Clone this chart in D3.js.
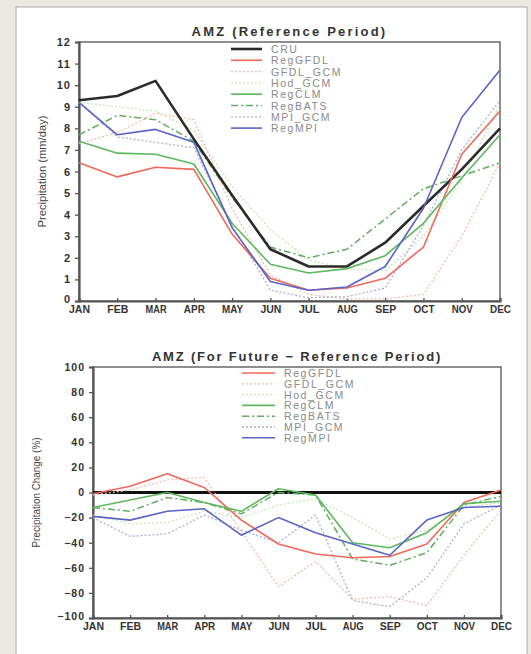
<!DOCTYPE html>
<html><head><meta charset="utf-8">
<script src="https://cdn.jsdelivr.net/npm/d3@7"></script>
<style>
html,body{margin:0;padding:0;background:#e9e8e1;}
svg{display:block;}
</style></head>
<body>
<svg id="c" width="531" height="654"></svg>
<script>
const months = ["JAN","FEB","MAR","APR","MAY","JUN","JUL","AUG","SEP","OCT","NOV","DEC"];
const refSeries = ["CRU","RegGFDL","GFDL_GCM","Hod_GCM","RegCLM","RegBATS","MPI_GCM","RegMPI"];
const futSeries = ["RegGFDL","GFDL_GCM","Hod_GCM","RegCLM","RegBATS","MPI_GCM","RegMPI"];
const refTicks = [0,1,2,3,4,5,6,7,8,9,10,11,12];
const futTicks = [-100,-80,-60,-40,-20,0,20,40,60,80,100];

// Reference period precipitation (mm/day)
const refCRU      = [9.3,9.5,10.2,7.5,4.9,2.4,1.6,1.6,2.7,4.4,6.1,8.0];
const refRegGFDL  = [6.4,5.75,6.2,6.1,3.1,1.05,0.5,0.6,1.05,2.5,6.8,8.8];
const refGFDL_GCM = [7.3,7.8,8.7,8.4,4.3,1.2,0.3,0.1,0.1,0.3,3.0,6.4];
const refHod_GCM  = [9.2,9.0,8.8,7.9,5.3,3.3,1.9,1.5,1.4,3.0,5.6,9.1];
const refRegCLM   = [7.4,6.85,6.8,6.35,3.6,1.7,1.3,1.5,2.1,3.6,5.7,7.7];
const refRegBATS  = [7.7,8.6,8.4,7.4,4.8,2.5,2.0,2.4,3.8,5.2,5.8,6.4];
const refMPI_GCM  = [9.2,7.6,7.35,7.1,3.5,0.5,0.15,0.2,0.6,3.5,7.0,9.3];
const refRegMPI   = [9.2,7.7,7.95,7.35,3.4,0.9,0.5,0.65,1.6,4.3,8.5,10.7];

// Future - reference change (%)
const futRegGFDL  = [-1,5,15,4,-22,-41,-49,-52,-51,-41,-8,2];
const futGFDL_GCM = [-2,2,10,12,-31,-75,-55,-85,-83,-90,-50,-14];
const futHod_GCM  = [-18,-25,-24,-15,-20,-10,-5,-20,-37,-30,-12,-8];
const futRegCLM   = [-12,-6,0,-8,-15,3,-2,-40,-44,-32,-9,-7];
const futRegBATS  = [-12,-15,-4,-8,-17,0,-2,-53,-58,-48,-10,-3];
const futMPI_GCM  = [-20,-35,-33,-18,-30,-40,-18,-86,-91,-68,-25,-10];
const futRegMPI   = [-19,-22,-15,-13,-34,-20,-32,-41,-50,-22,-12,-11];

const refData = {CRU:refCRU,RegGFDL:refRegGFDL,GFDL_GCM:refGFDL_GCM,Hod_GCM:refHod_GCM,RegCLM:refRegCLM,RegBATS:refRegBATS,MPI_GCM:refMPI_GCM,RegMPI:refRegMPI};
const futData = {RegGFDL:futRegGFDL,GFDL_GCM:futGFDL_GCM,Hod_GCM:futHod_GCM,RegCLM:futRegCLM,RegBATS:futRegBATS,MPI_GCM:futMPI_GCM,RegMPI:futRegMPI};

const styles = {
  CRU:      {c:"#2b2b2b", w:2.6, d:null},
  RegGFDL:  {c:"#f0685a", w:1.6, d:null},
  GFDL_GCM: {c:"#f6b9b0", w:1.3, d:"2,2"},
  Hod_GCM:  {c:"#c9e4b8", w:1.3, d:"2,2"},
  RegCLM:   {c:"#5cb85c", w:1.6, d:null},
  RegBATS:  {c:"#5fae5f", w:1.5, d:"7,3,2,3"},
  MPI_GCM:  {c:"#aab0dc", w:1.3, d:"2,2"},
  RegMPI:   {c:"#5a64c4", w:1.6, d:null}
};

const svg = d3.select("#c");
svg.append("rect").attr("x",16).attr("y",7).attr("width",511).attr("height",660)
  .attr("fill","#fff").attr("stroke","#a8a8a8").attr("stroke-width",1);

function panel(cfg){
  const x = d3.scalePoint().domain(months).range([cfg.x0,cfg.x1]).padding(0);
  const y = d3.scaleLinear().domain(cfg.domain).range([cfg.y1,cfg.y0]);
  const g = svg.append("g");

  // frame
  g.append("rect").attr("x",cfg.x0).attr("y",cfg.y0).attr("width",cfg.x1-cfg.x0).attr("height",cfg.y1-cfg.y0)
    .attr("fill","none").attr("stroke","#6a6a6a").attr("stroke-width",1.5);

  // y axis
  const ya = d3.axisLeft(y).tickValues(cfg.ticks).tickSize(4).tickPadding(4)
    .tickFormat(d=>String(d).replace("-","\u2212"));
  const yg = g.append("g").attr("transform",`translate(${cfg.x0},0)`).call(ya);
  yg.select(".domain").attr("stroke","#555").attr("stroke-width",2.2);
  yg.selectAll(".tick line").attr("stroke","#555").attr("stroke-width",1.3);
  yg.selectAll("text").attr("font-family","Liberation Sans, Arial, sans-serif").attr("font-weight","bold")
    .attr("font-size",cfg.yfs).attr("letter-spacing",cfg.yls).attr("fill","#333");
  // nudge bottom-most label up a bit so it clears the month label
  yg.selectAll(".tick").filter(d=>d===cfg.domain[0]).select("text").attr("dy","0.1em");

  // x axis
  const xa = d3.axisBottom(x).tickSize(-3).tickPadding(5);
  const xg = g.append("g").attr("transform",`translate(0,${cfg.y1})`).call(xa);
  xg.select(".domain").attr("stroke","#555").attr("stroke-width",2.2);
  xg.selectAll(".tick line").attr("stroke","#555").attr("stroke-width",1.3);
  xg.selectAll("text").attr("font-family","Liberation Sans, Arial, sans-serif").attr("font-weight","bold")
    .attr("font-size",10).attr("fill","#333").attr("textLength",21).attr("lengthAdjust","spacingAndGlyphs");

  // title
  g.append("text").attr("x",(cfg.x0+cfg.x1)/2).attr("y",cfg.y0-6).attr("text-anchor","middle")
    .attr("font-family","Liberation Sans, Arial, sans-serif").attr("font-weight","bold").attr("font-size",13)
    .attr("letter-spacing",cfg.tls).attr("fill","#333").text(cfg.title);

  // y label
  g.append("text").attr("transform",`translate(${cfg.ylx},${(cfg.y0+cfg.y1)/2}) rotate(-90)`)
    .attr("text-anchor","middle").attr("font-family","Liberation Sans, Arial, sans-serif")
    .attr("font-size",10).attr("fill","#444").attr("textLength",cfg.yll).attr("lengthAdjust","spacingAndGlyphs")
    .text(cfg.ylabel);

  const line = d3.line().x((d,i)=>x(months[i])).y(d=>y(d));

  if(cfg.zero){
    g.append("line").attr("x1",cfg.x0).attr("x2",cfg.x1).attr("y1",y(0)).attr("y2",y(0))
      .attr("stroke","#111").attr("stroke-width",3);
  }

  // draw order: faint first, strong last
  const order = cfg.series.slice().sort((a,b)=>(styles[a].d?0:1)-(styles[b].d?0:1));
  order.forEach(s=>{
    const st = styles[s];
    g.append("path").datum(cfg.data[s]).attr("d",line).attr("fill","none")
      .attr("stroke",st.c).attr("stroke-width",st.w).attr("stroke-dasharray",st.d)
      .attr("stroke-linejoin","round");
  });

  // legend
  cfg.series.forEach((s,i)=>{
    const st = styles[s];
    const ly = cfg.ly + i*cfg.lstep;
    g.append("line").attr("x1",cfg.lx).attr("x2",cfg.lx+cfg.llen).attr("y1",ly).attr("y2",ly)
      .attr("stroke",st.c).attr("stroke-width",st.w).attr("stroke-dasharray",st.d);
    g.append("text").attr("x",cfg.lx+cfg.llen+9).attr("y",ly+4)
      .attr("font-family","Liberation Sans, Arial, sans-serif").attr("font-size",10.5)
      .attr("letter-spacing",1.6).attr("fill","#8a8a8a").text(s);
  });
}

panel({x0:79,x1:500,y0:42,y1:301,domain:[0,12],ticks:refTicks,yfs:11,yls:1,tls:2.2,
  title:"AMZ (Reference Period)",ylabel:"Precipitation (mm/day)",ylx:46,yll:112,
  series:refSeries,data:refData,lx:231,llen:31,ly:49,lstep:11.3,zero:false});

panel({x0:93,x1:501,y0:367,y1:618,domain:[-100,100],ticks:futTicks,yfs:10.5,yls:1,tls:1.8,
  title:"AMZ (For Future \u2212 Reference Period)",ylabel:"Precipitation Change (%)",ylx:40,yll:110,
  series:futSeries,data:futData,lx:242,llen:33,ly:373,lstep:10.8,zero:true});
</script>
</body></html>
